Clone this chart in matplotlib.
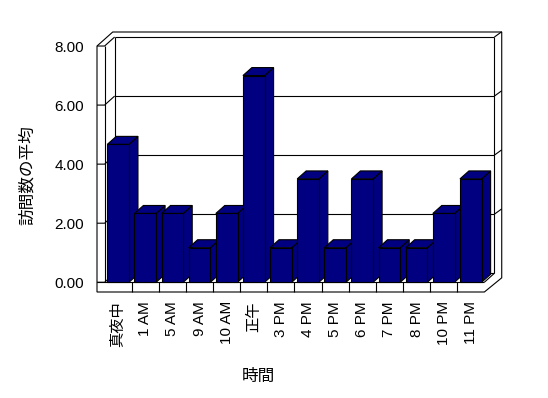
import matplotlib
matplotlib.use('Agg')
import matplotlib.pyplot as plt
from matplotlib.patches import Polygon

plt.rcParams['font.family'] = ['Liberation Sans', 'Noto Sans CJK JP']

# data
hours = ['真夜中', '1 AM', '5 AM', '9 AM', '10 AM', '正午', '3 PM', '4 PM',
         '5 PM', '6 PM', '7 PM', '8 PM', '10 PM', '11 PM']
visits = [4.67, 2.33, 2.33, 1.17, 2.33, 7.00, 1.17, 3.50,
          1.17, 3.50, 1.17, 1.17, 2.33, 3.50]
yticks = [0, 2, 4, 6, 8]
ytick_labels = ['0.00', '2.00', '4.00', '6.00', '8.00']

# fake 3d geometry (data units)
n = len(hours)
x_in, x_out = -0.5, -0.78
x_end = n - 0.5
floor = -0.33
dx, dy = 0.37, 0.305
bdx, bdy = 0.33, 0.27
bw = 0.8
top = yticks[-1]
navy = '#000080'
lw = 0.8

fig = plt.figure(figsize=(5.48, 3.98), dpi=100)
ax = fig.add_axes([97 / 548, 1 - 292 / 398, 405 / 548, 260 / 398])
ax.set_xlim(x_out, 14.15)
ax.set_ylim(floor, 8.475)
for s in ax.spines.values():
    s.set_visible(False)

def line(xs, ys, z=2):
    ax.plot(xs, ys, color='black', lw=lw, zorder=z, clip_on=False,
            solid_capstyle='butt')

# walls outline
outline = [(x_out, top), (x_in + 0.3, top + 0.475), (x_end + 0.64, top + 0.475),
           (x_end + 0.64, 0.15), (x_end, floor), (x_out, floor)]
ax.add_patch(Polygon(outline, closed=True, facecolor='white', edgecolor='black',
                     lw=lw, zorder=1, clip_on=False))
line([x_in, x_in], [0, top])
line([x_out, x_end], [0, 0])
line([x_in + dx, x_in + dx], [dy, top + dy])
line([x_end + dx, x_end + dx], [dy, top + dy])
line([x_end, x_end + dx], [0, dy])
for v in yticks:
    line([x_out, x_in, x_in + dx], [v, v, v + dy])
    line([x_in + dx, x_end + dx], [v + dy, v + dy])
    if v > 0:
        line([x_end + dx, x_end + dx + 0.27], [v + dy, v + dy + 0.18])
for k in range(1, n):
    line([k - 0.5, k - 0.5], [floor, 0])

# bars
for i, v in enumerate(visits):
    l, r = i - bw / 2, i + bw / 2
    z = 3 + i
    front = [(l, 0), (r, 0), (r, v), (l, v)]
    side = [(r, 0), (r + bdx, bdy), (r + bdx, v + bdy), (r, v)]
    cap = [(l, v), (r, v), (r + bdx, v + bdy), (l + bdx, v + bdy)]
    for pts in (side, cap, front):
        ax.add_patch(Polygon(pts, closed=True, facecolor=navy, edgecolor='black',
                             lw=lw, zorder=z, clip_on=False))

ax.set_yticks(yticks, ytick_labels, fontsize=11)
ax.set_xticks(range(n), hours, rotation=90, fontsize=11)
ax.tick_params(axis='y', length=0, pad=9.4)
ax.tick_params(axis='x', length=0, pad=6.5)

fig.text(27.5 / 548, 1 - 175.5 / 398, '訪問数の平均', rotation=90,
         ha='center', va='center', fontsize=12)
fig.text(258 / 548, 1 - 376 / 398, '時間', ha='center', va='center', fontsize=12)

fig.savefig('out.png', dpi=100)
